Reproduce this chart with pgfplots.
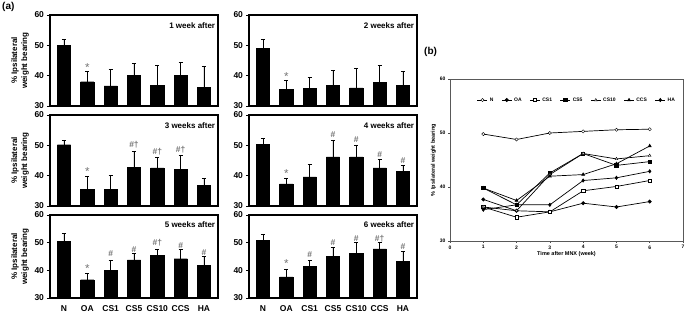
\documentclass[border=0pt]{standalone}
\usepackage{pgfplots}
\pgfplotsset{compat=1.18}
\usepackage{fontspec}
\setmainfont{Liberation Sans}
\definecolor{anno}{gray}{0.45}
\tikzset{
  wk/.style={anchor=north east, font=\bfseries\fontsize{8}{9}\selectfont, inner sep=1pt},
  an/.style={anno, font=\bfseries\fontsize{8.5}{9}\selectfont, inner sep=0pt},
  st/.style={anno, font=\fontsize{11.5}{12}\selectfont, inner sep=0pt},
}
\begin{document}
\begin{tikzpicture}
\useasboundingbox (0pt,0pt) rectangle (685pt,313pt);
\pgfplotsset{
  barax/.style={
    scale only axis, width=168pt,
    xmin=-0.6, xmax=6.6, ymin=30, ymax=60,
    ytick={30,40,50,60},
    xtick={0,...,6}, xticklabels={},
    major x tick style={draw=none},
    axis line style={line width=1.1pt},
    ytick style={line width=0.8pt, black},
    ytick pos=left, tick align=outside, major tick length=3pt,
    /pgf/number format/assume math mode=true,
    yticklabel style={font=\bfseries\fontsize{8.5}{9}\selectfont, xshift=0.5pt},
    clip=false,
  },
  barplot/.style={ybar, bar width=0.57, fill=black, draw=black,
    error bars/.cd, y dir=plus, y explicit,
    error bar style={line width=0.9pt, black},
    error mark options={rotate=90, mark size=2.1pt, line width=0.9pt, black}},
}
% ---------- Week 1 ----------
\begin{axis}[barax, height=91pt, at={(50pt,207pt)}, anchor=south west]
\addplot[barplot] table[x=x, y=y, y error=e] {
x y e
0 50.0 1.9
1 38.0 3.4
2 36.6 5.4
3 40.0 4.1
4 36.8 6.6
5 40.0 4.5
6 36.2 7.0
};
\node[wk] at (rel axis cs:0.99,0.93) {1 week after};
\node[st] at (axis cs:1,42.6) {*};
\end{axis}
% ---------- Week 2 ----------
\begin{axis}[barax, height=91pt, at={(249pt,207pt)}, anchor=south west]
\addplot[barplot] table[x=x, y=y, y error=e] {
x y e
0 48.9 3.1
1 35.6 2.8
2 35.8 3.7
3 36.9 4.7
4 36.0 6.5
5 37.8 5.5
6 36.9 4.5
};
\node[wk] at (rel axis cs:0.99,0.93) {2 weeks after};
\node[st] at (axis cs:1,39.8) {*};
\end{axis}
% ---------- Week 3 ----------
\begin{axis}[barax, height=91pt, at={(50pt,107pt)}, anchor=south west]
\addplot[barplot] table[x=x, y=y, y error=e] {
x y e
0 50.2 1.4
1 35.6 4.0
2 35.6 4.4
3 42.8 5.2
4 42.6 3.5
5 42.1 4.6
6 36.9 2.3
};
\node[wk] at (rel axis cs:0.99,0.93) {3 weeks after};
\node[st] at (axis cs:1,41.2) {*};
\node[an] at (axis cs:3,50.2) {\#†};
\node[an] at (axis cs:4,48.0) {\#†};
\node[an] at (axis cs:5,48.5) {\#†};
\end{axis}
% ---------- Week 4 ----------
\begin{axis}[barax, height=91pt, at={(249pt,107pt)}, anchor=south west]
\addplot[barplot] table[x=x, y=y, y error=e] {
x y e
0 50.4 1.9
1 37.3 1.9
2 39.6 4.0
3 46.2 5.4
4 46.2 3.7
5 42.6 2.6
6 41.5 1.8
};
\node[wk] at (rel axis cs:0.99,0.93) {4 weeks after};
\node[st] at (axis cs:1,40.7) {*};
\node[an] at (axis cs:3,53.4) {\#};
\node[an] at (axis cs:4,51.8) {\#};
\node[an] at (axis cs:5,46.9) {\#};
\node[an] at (axis cs:6,44.9) {\#};
\end{axis}
% ---------- Week 5 ----------
\begin{axis}[barax, height=83pt, at={(50pt,15pt)}, anchor=south west,
  xticklabels={N,OA,CS1,CS5,CS10,CCS,HA},
  xticklabel style={font=\bfseries\fontsize{8.5}{9}\selectfont, yshift=-1pt}]
\addplot[barplot] table[x=x, y=y, y error=e] {
x y e
0 50.6 2.8
1 36.6 2.4
2 40.0 3.6
3 43.8 2.4
4 45.3 2.2
5 44.2 3.3
6 41.9 3.0
};
\node[wk] at (rel axis cs:0.99,0.93) {5 weeks after};
\node[st] at (axis cs:1,40.7) {*};
\node[an] at (axis cs:2,46.2) {\#};
\node[an] at (axis cs:3,47.6) {\#};
\node[an] at (axis cs:4,50.0) {\#†};
\node[an] at (axis cs:5,49.1) {\#};
\node[an] at (axis cs:6,46.4) {\#};
\end{axis}
% ---------- Week 6 ----------
\begin{axis}[barax, height=83pt, at={(249pt,15pt)}, anchor=south west,
  xticklabels={N,OA,CS1,CS5,CS10,CCS,HA},
  xticklabel style={font=\bfseries\fontsize{8.5}{9}\selectfont, yshift=-1pt}]
\addplot[barplot] table[x=x, y=y, y error=e] {
x y e
0 50.9 2.2
1 37.6 2.7
2 41.4 2.3
3 45.0 3.4
4 46.2 3.8
5 47.8 2.3
6 43.3 3.4
};
\node[wk] at (rel axis cs:0.99,0.93) {6 weeks after};
\node[st] at (axis cs:1,42.4) {*};
\node[an] at (axis cs:2,45.8) {\#};
\node[an] at (axis cs:3,50.0) {\#};
\node[an] at (axis cs:4,51.6) {\#};
\node[an] at (axis cs:5,51.6) {\#†};
\node[an] at (axis cs:6,48.6) {\#};
\end{axis}
% y labels of panel (a)
\foreach \yc in {252.5,152.5,56.5}{
  \node[rotate=90, align=center, font=\bfseries\fontsize{8}{10}\selectfont, inner sep=0pt]
    at (20pt,\yc pt) {\% Ipsilateral\\weight bearing};
}
\node[font=\bfseries\fontsize{10}{10}\selectfont, anchor=north west, inner sep=0pt] at (2pt,311pt) {(a)};
\node[font=\bfseries\fontsize{10}{10}\selectfont, anchor=west, inner sep=0pt] at (424pt,261pt) {(b)};
% ---------- Panel (b) ----------
\begin{axis}[at={(450pt,72pt)}, anchor=south west, scale only axis,
  width=233pt, height=162pt,
  xmin=0, xmax=7, ymin=30, ymax=60,
  xtick={0,...,7}, ytick={30,40,50,60},
  tick align=outside, major tick length=2pt,
  xtick pos=bottom, ytick pos=left,
  axis line style={draw=black!65, line width=0.9pt},
  tick style={black!70, line width=0.5pt},
  /pgf/number format/assume math mode=true,
  ticklabel style={font=\bfseries\fontsize{5}{5}\selectfont},
  xticklabel style={yshift=1pt},
  yticklabel style={xshift=1pt},
  xlabel={Time after MNX (week)},
  ylabel={\% Ipsilateral weight bearing},
  label style={font=\bfseries\fontsize{5.5}{6}\selectfont},
  xlabel style={yshift=4pt},
  ylabel style={yshift=-3pt},
  legend columns=7,
  legend style={at={(0.545,0.87)}, anchor=center, draw=none, fill=none,
    font=\bfseries\fontsize{5}{5}\selectfont,
    /tikz/every even column/.append style={column sep=6pt},
    inner sep=0pt},
  legend image code/.code={\draw[#1] (0pt,0pt) -- (10pt,0pt); \draw[#1, only marks] plot coordinates {(5pt,0pt)};},
  every axis plot/.append style={black, line width=0.7pt, mark size=1.6pt},
]
\addplot[mark=*, mark options={fill=white, line width=0.4pt}] coordinates {(1,49.8) (2,48.8) (3,50.0) (4,50.3) (5,50.6) (6,50.7)};
\addlegendentry{N}
\addplot[mark=*, mark options={fill=black}] coordinates {(1,37.7) (2,35.6) (3,35.4) (4,37.0) (5,36.3) (6,37.3)};
\addlegendentry{OA}
\addplot[mark=square*, mark options={fill=white, line width=0.4pt}] coordinates {(1,36.3) (2,34.4) (3,35.4) (4,39.3) (5,40.1) (6,41.2)};
\addlegendentry{CS1}
\addplot[mark=square*, mark options={fill=black}] coordinates {(1,39.8) (2,36.7) (3,42.6) (4,46.2) (5,44.0) (6,44.7)};
\addlegendentry{CS5}
\addplot[mark=triangle*, mark options={fill=white, line width=0.4pt}] coordinates {(1,36.3) (2,35.6) (3,42.3) (4,46.2) (5,45.2) (6,45.8)};
\addlegendentry{CS10}
\addplot[mark=triangle*, mark options={fill=black}] coordinates {(1,39.8) (2,37.5) (3,42.0) (4,42.3) (5,44.3) (6,47.6)};
\addlegendentry{CCS}
\addplot[mark=diamond*, mark options={fill=black}] coordinates {(1,35.8) (2,36.7) (3,36.7) (4,41.2) (5,41.7) (6,42.9)};
\addlegendentry{HA}
\end{axis}
\end{tikzpicture}
\end{document}
